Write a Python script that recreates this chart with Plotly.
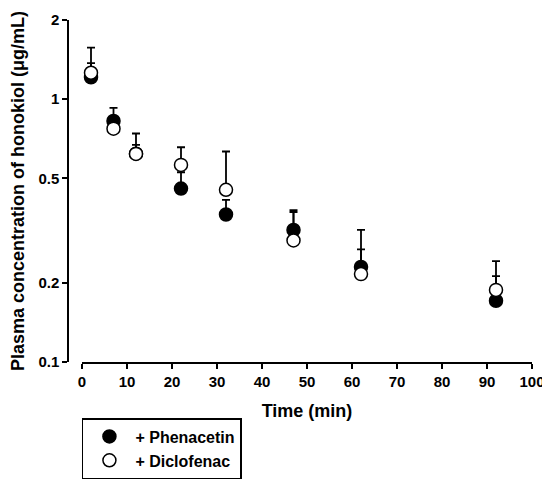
import plotly.graph_objects as go

time_min = [2, 7, 12, 22, 32, 47, 62, 92]
phenacetin = [1.21, 0.826, 0.62, 0.457, 0.364, 0.318, 0.230, 0.171]
phenacetin_err = [0.16, 0.10, 0.05, 0.07, 0.05, 0.054, 0.038, 0.041]
diclofenac = [1.26, 0.772, 0.619, 0.562, 0.452, 0.290, 0.216, 0.188]
diclofenac_err = [0.31, 0.03, 0.121, 0.094, 0.18, 0.088, 0.102, 0.054]

font_family = "Arial, Liberation Sans, sans-serif"

fig = go.Figure()

fig.add_trace(go.Scatter(
    x=time_min, y=phenacetin, mode="markers", name="+ Phenacetin",
    marker=dict(symbol="circle", size=13, color="black", line=dict(color="black", width=1.5)),
    error_y=dict(type="data", array=phenacetin_err, arrayminus=[0] * len(time_min),
                 symmetric=False, color="black", thickness=1.8, width=4),
))
fig.add_trace(go.Scatter(
    x=time_min, y=diclofenac, mode="markers", name="+ Diclofenac",
    marker=dict(symbol="circle", size=13, color="white", line=dict(color="black", width=1.5)),
    error_y=dict(type="data", array=diclofenac_err, arrayminus=[0] * len(time_min),
                 symmetric=False, color="black", thickness=1.8, width=4),
))

# page body adds an 8px offset; extra bottom room keeps the legend from pushing the margin
fig.update_layout(
    width=542, height=484,
    margin=dict(l=60, r=18, t=12, b=130),
    paper_bgcolor="white", plot_bgcolor="white",
    font=dict(family=font_family, size=15, color="black", weight="bold"),
    showlegend=True,
    legend=dict(
        x=0.03, y=-0.164, xanchor="left", yanchor="top",
        bordercolor="black", borderwidth=1.5,
        font=dict(size=16, weight="bold"),
        tracegroupgap=0, itemwidth=42,
    ),
    xaxis=dict(
        domain=[14 / 464, 1], range=[0, 100], dtick=10,
        showline=True, linecolor="black", linewidth=1.5,
        ticks="outside", ticklen=5, tickwidth=1.5, tickcolor="black",
        showgrid=False, zeroline=False, automargin=False,
        tickfont=dict(size=15, weight="bold"),
        title=dict(text="Time (min)", font=dict(size=18, weight="bold"), standoff=16),
    ),
    yaxis=dict(
        type="log", range=[-1, 0.30103],
        tickvals=[0.1, 0.2, 0.5, 1, 2], ticktext=["0.1", "0.2", "0.5", "1", "2"],
        anchor="free", position=0,
        showline=True, linecolor="black", linewidth=1.5,
        ticks="outside", ticklen=5, tickwidth=1.5, tickcolor="black",
        showgrid=False, zeroline=False, automargin=False,
        tickfont=dict(size=15, weight="bold"),
        title=dict(text="Plasma concentration of honokiol (μg/mL)",
                   font=dict(size=18, weight="bold"), standoff=20),
    ),
)

fig.write_html("out.html")
